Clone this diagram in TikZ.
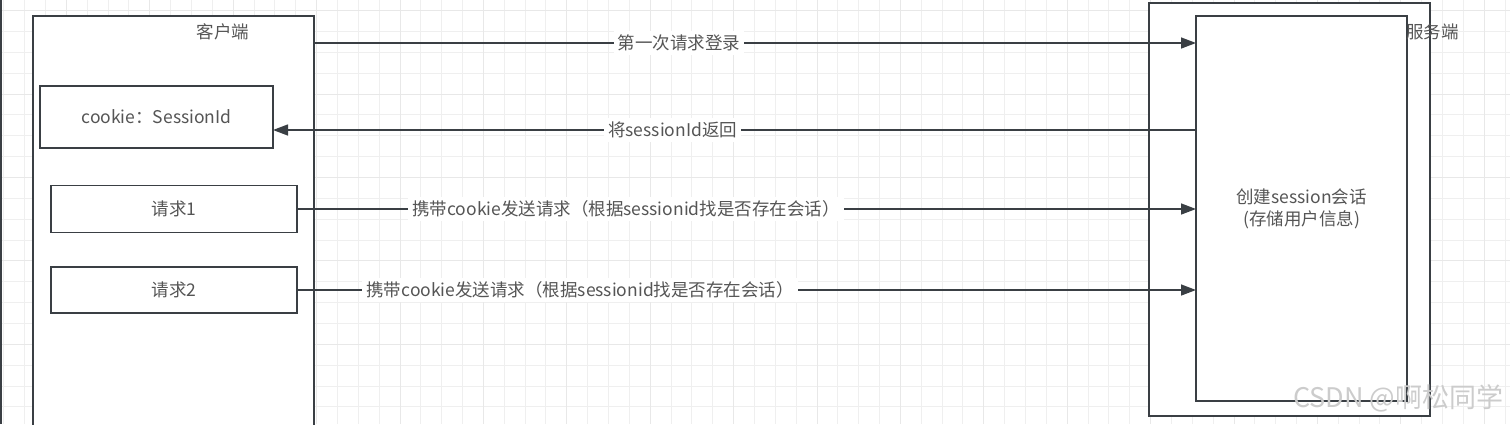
\documentclass[tikz,border=0pt]{standalone}
\usepackage{fontspec}
\setmainfont{Noto Sans CJK SC}
\usetikzlibrary{arrows.meta,positioning}
\definecolor{lineGray}{HTML}{3A3F44}
\definecolor{textGray}{HTML}{555555}
\definecolor{gridMinor}{HTML}{EFEFEF}
\definecolor{gridMajor}{HTML}{E8E8E8}
\newcommand{\gridStep}{20.85}
\newcommand{\labelSize}{\fontsize{17.5}{22}\selectfont}
\newcommand{\markSize}{\fontsize{27}{30}\selectfont}

\begin{document}
\begin{tikzpicture}[x=1pt, y=-1pt]
  \tikzset{
    box/.style={draw=lineGray, line width=1.5pt, fill=white, anchor=north west, inner sep=0pt, outer sep=0pt},
    txt/.style={text=textGray, font=\labelSize, inner sep=1pt},
    msg/.style={draw=lineGray, line width=1.4pt, -{Triangle[length=15pt,width=11pt]}},
    lbl/.style={txt, fill=white, inner sep=4pt},
    gridline/.style={draw=gridMinor, line width=1pt},
    gridbold/.style={draw=gridMajor, line width=1pt}
  }
  \useasboundingbox (0,0) rectangle (1510,424);
  \clip (0,0) rectangle (1510,424);
  \fill[white] (0,0) rectangle (1510,424);
  \foreach \k in {0,...,72}
    \draw[gridline] (3.85+\gridStep*\k,0) -- (3.85+\gridStep*\k,424);
  \foreach \k in {0,...,20}
    \draw[gridline] (0,10.7+\gridStep*\k) -- (1510,10.7+\gridStep*\k);
  \foreach \k in {0,...,17}
    \draw[gridbold] (66.4+4*\gridStep*\k,0) -- (66.4+4*\gridStep*\k,424);
  \foreach \k in {0,...,5}
    \draw[gridbold] (0,10.7+4*\gridStep*\k) -- (1510,10.7+4*\gridStep*\k);
  \draw[lineGray, line width=1.5pt] (1,0) -- (1,424);

  \node[box, minimum width=281pt, minimum height=440pt] (client) at (33,16) {};
  \node[txt] (clientLbl) at (223,32) {客户端};
  \node[box, txt, minimum width=233pt, minimum height=62pt] (cookie) at (40,86) {cookie：SessionId};
  \node[box, txt, minimum width=246pt, minimum height=47pt] (req1) at (51,185.5) {请求1};
  \node[box, txt, minimum width=246pt, minimum height=46pt] (req2) at (51,267) {请求2};

  \node[box, minimum width=281pt, minimum height=413pt] (server) at (1149,3) {};
  \node[box, txt, align=center, minimum width=211pt, minimum height=385pt] (session) at (1196,16)
    {创建session会话\\(存储用户信息)};
  \node[txt, anchor=west] (serverLbl) at (1405,32) {服务端};

  \coordinate (y1) at (0,43);
  \coordinate (y2) at (0,130);
  \draw[msg] (client.east |- y1) -- node[lbl, pos=0.414] {第一次请求登录} (session.west |- y1);
  \draw[msg] (session.west |- y2) -- node[lbl, pos=0.567] {将sessionId返回} (cookie.east |- y2);
  \draw[msg] (req1.east) -- node[lbl, pos=0.366] {携带cookie发送请求（根据sessionid找是否存在会话）} (session.west |- req1.east);
  \draw[msg] (req2.east) -- node[lbl, pos=0.315] {携带cookie发送请求（根据sessionid找是否存在会话）} (session.west |- req2.east);

  \node[text=gray!40, font=\markSize, anchor=east] (mark) at (1507,398) {CSDN @啊松同学};
\end{tikzpicture}
\end{document}
